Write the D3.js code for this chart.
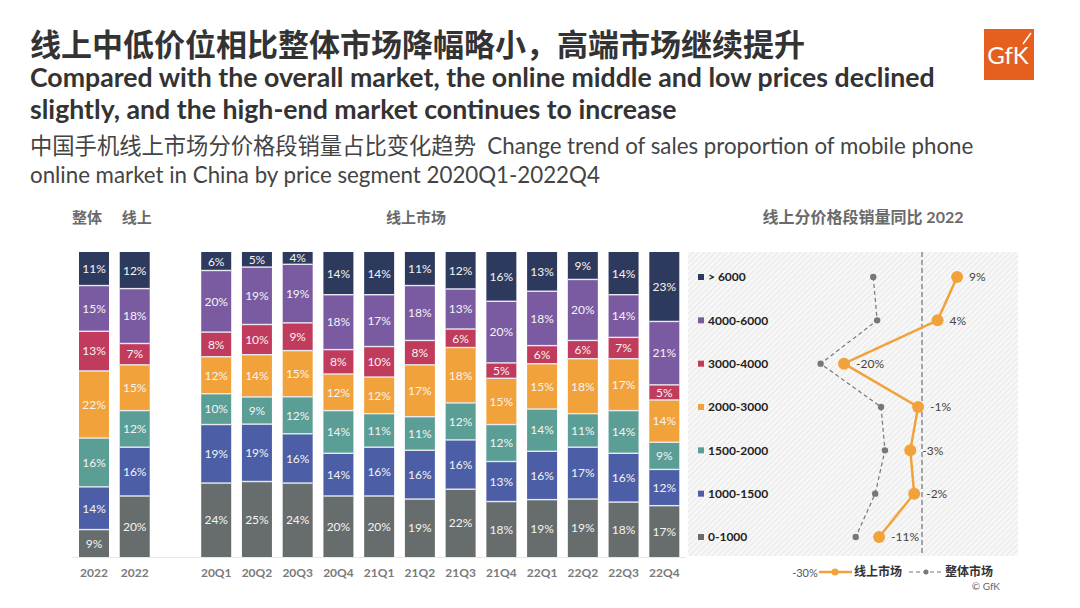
<!DOCTYPE html>
<html><head><meta charset="utf-8">
<script src="https://cdn.jsdelivr.net/npm/d3@7"></script>
<style>
html,body{margin:0;padding:0;background:#fff;}
svg{display:block;font-family:Lato,"Noto Sans CJK SC",sans-serif;}
</style></head>
<body><svg id="c" width="1080" height="608"></svg>
<script>
// ---- data ----
const segments = ["0-1000","1000-1500","1500-2000","2000-3000","3000-4000","4000-6000","> 6000"];
const segColors = ["#676d6d","#4b5ea6","#5a9e95","#f2a23a","#c13b5c","#7a5ba2","#2e3a5d"];
const barCats = ["整体2022","线上2022","gap","20Q1","20Q2","20Q3","20Q4","21Q1","21Q2","21Q3","21Q4","22Q1","22Q2","22Q3","22Q4"];
const barLabels = ["2022","2022","","20Q1","20Q2","20Q3","20Q4","21Q1","21Q2","21Q3","21Q4","22Q1","22Q2","22Q3","22Q4"];
// shares from bottom (0-1000) to top (>6000), %
const share_overall2022 = [9,14,16,22,13,15,11];
const share_online2022  = [20,16,12,15,7,18,12];
const share_20Q1 = [24,19,10,12,8,20,6];
const share_20Q2 = [25,19,9,14,10,19,5];
const share_20Q3 = [24,16,12,15,9,19,4];
const share_20Q4 = [20,14,14,12,8,18,14];
const share_21Q1 = [20,16,11,12,10,17,14];
const share_21Q2 = [19,16,11,17,8,18,11];
const share_21Q3 = [22,16,12,18,6,13,12];
const share_21Q4 = [18,13,12,15,5,20,16];
const share_22Q1 = [19,16,14,15,6,18,13];
const share_22Q2 = [19,17,11,18,6,20,9];
const share_22Q3 = [18,16,14,17,7,14,14];
const share_22Q4 = [17,12,9,14,5,21,23];
// YoY 2022 by segment (top to bottom rows)
const yoyRows = ["> 6000","4000-6000","3000-4000","2000-3000","1500-2000","1000-1500","0-1000"];
const yoyOnline  = [9,4,-20,-1,-3,-2,-11];
const yoyOverall = [-12.5,-11.5,-26,-10.5,-9.5,-12,-17];
const xTickMin = -30;

const shares = {
  "整体2022":share_overall2022,"线上2022":share_online2022,
  "20Q1":share_20Q1,"20Q2":share_20Q2,"20Q3":share_20Q3,"20Q4":share_20Q4,
  "21Q1":share_21Q1,"21Q2":share_21Q2,"21Q3":share_21Q3,"21Q4":share_21Q4,
  "22Q1":share_22Q1,"22Q2":share_22Q2,"22Q3":share_22Q3,"22Q4":share_22Q4
};

const svg = d3.select("#c");

// ---- titles ----
svg.append("text").attr("x",30).attr("y",56).attr("font-size",31).attr("font-weight","bold")
  .attr("fill","#333").text("线上中低价位相比整体市场降幅略小，高端市场继续提升");
svg.append("text").attr("x",30).attr("y",87).attr("font-size",26.7).attr("font-weight","bold")
  .attr("fill","#333").text("Compared with the overall market, the online middle and low prices declined");
svg.append("text").attr("x",30).attr("y",119).attr("font-size",26.7).attr("font-weight","bold")
  .attr("fill","#333").text("slightly, and the high-end market continues to increase");
svg.append("text").attr("x",30).attr("y",154).attr("font-size",22.3)
  .attr("fill","#444").attr("xml:space","preserve").text("中国手机线上市场分价格段销量占比变化趋势  Change trend of sales proportion of mobile phone");
svg.append("text").attr("x",30).attr("y",183).attr("font-size",22.3)
  .attr("fill","#444").text("online market in China by price segment 2020Q1-2022Q4");

// logo
const logo = svg.append("g");
logo.append("rect").attr("x",984).attr("y",29).attr("width",50).attr("height",51).attr("fill","#e5601f");
logo.append("text").attr("x",1008).attr("y",64).attr("text-anchor","middle").attr("font-size",24)
  .attr("fill","#fff").text("GfK");
logo.append("line").attr("x1",1023).attr("y1",44).attr("x2",1031).attr("y2",33).attr("stroke","#fff").attr("stroke-width",1.5);

// ---- stacked bars ----
const x = d3.scaleBand().domain(barCats).range([79, 679.3]).paddingInner(0.2638).paddingOuter(0);
const y = d3.scaleLinear().domain([0,1]).range([557,252]);

svg.append("line").attr("x1",72).attr("x2",686).attr("y1",557.5).attr("y2",557.5)
  .attr("stroke","#e8e8e8").attr("stroke-width",1);

const bars = svg.append("g");
barCats.forEach(cat => {
  const vals = shares[cat];
  if(!vals) return;
  const tot = d3.sum(vals);
  let acc = 0;
  vals.forEach((v,i) => {
    const y0 = acc/tot, y1 = (acc+v)/tot;
    acc += v;
    const top = y(y1), bot = y(y0);
    bars.append("rect").attr("x",x(cat)).attr("width",x.bandwidth())
      .attr("y",top).attr("height",bot-top)
      .attr("fill",segColors[i]);
    if(i>0) bars.append("line").attr("x1",x(cat)).attr("x2",x(cat)+x.bandwidth()).attr("y1",bot).attr("y2",bot)
      .attr("stroke","#e9e9f0").attr("stroke-width",1.4);
    bars.append("text").attr("x",x(cat)+x.bandwidth()/2).attr("y",(top+bot)/2).attr("dy","0.36em")
      .attr("text-anchor","middle").attr("font-size",12).attr("fill","#f4f4f4").text(v+"%");
  });
});

// x axis labels
const xa = svg.append("g").attr("transform","translate(0,575)")
  .call(d3.axisBottom(x).tickSize(0).tickFormat((d,i)=>barLabels[i]));
xa.select(".domain").remove();
xa.selectAll("text").attr("font-size",12).attr("font-weight","bold").attr("fill","#7a7a7a")
  .attr("font-family","Lato").attr("dy","-0.1em").attr("y",0).attr("dominant-baseline","middle");

// headers
svg.append("text").attr("x",x("整体2022")+x.bandwidth()/2-7).attr("y",223).attr("text-anchor","middle")
  .attr("font-size",15).attr("font-weight","bold").attr("fill","#6a6a6a").text("整体");
svg.append("text").attr("x",x("线上2022")+x.bandwidth()/2+2).attr("y",223).attr("text-anchor","middle")
  .attr("font-size",15).attr("font-weight","bold").attr("fill","#6a6a6a").text("线上");
svg.append("text").attr("x",416).attr("y",223).attr("text-anchor","middle")
  .attr("font-size",15).attr("font-weight","bold").attr("fill","#6a6a6a").text("线上市场");
svg.append("text").attr("x",863).attr("y",223).attr("text-anchor","middle")
  .attr("font-size",16).attr("font-weight","bold").attr("fill","#6a6a6a").text("线上分价格段销量同比 2022");

// ---- right panel ----
const defs = svg.append("defs");
const pat = defs.append("pattern").attr("id","hatch").attr("patternUnits","userSpaceOnUse")
  .attr("width",4).attr("height",4).attr("patternTransform","rotate(45)");
pat.append("rect").attr("width",4).attr("height",4).attr("fill","#f7f7f7");
pat.append("line").attr("x1",0).attr("y1",0).attr("x2",0).attr("y2",4).attr("stroke","#e4e4e4").attr("stroke-width",1.5);

svg.append("rect").attr("x",688).attr("y",252).attr("width",330).attr("height",304).attr("fill","url(#hatch)");

const px = d3.scaleLinear().domain([-30,10]).range([805,961]);
const py = d3.scalePoint().domain(yoyRows).range([277,537]);

// zero line
svg.append("line").attr("x1",px(0)).attr("x2",px(0)).attr("y1",252).attr("y2",556)
  .attr("stroke","#8a8a8a").attr("stroke-width",1.5).attr("stroke-dasharray","5,3");

// row legend
yoyRows.forEach(r => {
  const ci = segments.indexOf(r);
  svg.append("rect").attr("x",698).attr("y",py(r)-3).attr("width",6).attr("height",6).attr("fill",segColors[ci]);
  svg.append("text").attr("x",708).attr("y",py(r)).attr("dy","0.36em").attr("font-size",12)
    .attr("font-weight","bold").attr("fill","#222").text(r);
});

// overall line
const lineGen = d3.line().x(d=>px(d[0])).y(d=>py(d[1]));
const ovData = yoyRows.map((r,i)=>[yoyOverall[i],r]);
svg.append("path").attr("d",lineGen(ovData)).attr("fill","none").attr("stroke","#777")
  .attr("stroke-width",1.2).attr("stroke-dasharray","4,3");
svg.selectAll(".ovd").data(ovData).enter().append("circle").attr("cx",d=>px(d[0])).attr("cy",d=>py(d[1]))
  .attr("r",3.2).attr("fill","#777");

// online line
const onData = yoyRows.map((r,i)=>[yoyOnline[i],r]);
svg.append("path").attr("d",lineGen(onData)).attr("fill","none").attr("stroke","#f2a23a").attr("stroke-width",2.5);
svg.selectAll(".ond").data(onData).enter().append("circle").attr("cx",d=>px(d[0])).attr("cy",d=>py(d[1]))
  .attr("r",6).attr("fill","#f2a23a");
svg.selectAll(".onl").data(onData).enter().append("text").attr("x",d=>px(d[0])+12).attr("y",d=>py(d[1]))
  .attr("dy","0.36em").attr("font-size",12).attr("fill","#444").text(d=>d[0]+"%");

// -30% tick label
svg.append("text").attr("x",px(xTickMin)).attr("y",573).attr("dy","0.36em").attr("text-anchor","middle")
  .attr("font-size",11).attr("fill","#555").text(xTickMin+"%");

// bottom legend
svg.append("line").attr("x1",819).attr("x2",852).attr("y1",572).attr("y2",572).attr("stroke","#f2a23a").attr("stroke-width",2.5);
svg.append("circle").attr("cx",835).attr("cy",572).attr("r",3.5).attr("fill","#f2a23a");
svg.append("text").attr("x",854).attr("y",572).attr("dy","0.36em").attr("font-size",12).attr("font-weight","bold")
  .attr("fill","#333").text("线上市场");
svg.append("line").attr("x1",909).attr("x2",944).attr("y1",572).attr("y2",572).attr("stroke","#777")
  .attr("stroke-width",1.2).attr("stroke-dasharray","4,3");
svg.append("circle").attr("cx",926).attr("cy",572).attr("r",2.5).attr("fill","#777");
svg.append("text").attr("x",945).attr("y",572).attr("dy","0.36em").attr("font-size",12).attr("font-weight","bold")
  .attr("fill","#333").text("整体市场");
svg.append("text").attr("x",1000).attr("y",586).attr("dy","0.36em").attr("text-anchor","end").attr("font-size",10)
  .attr("fill","#666").text("© GfK");
</script></body></html>
